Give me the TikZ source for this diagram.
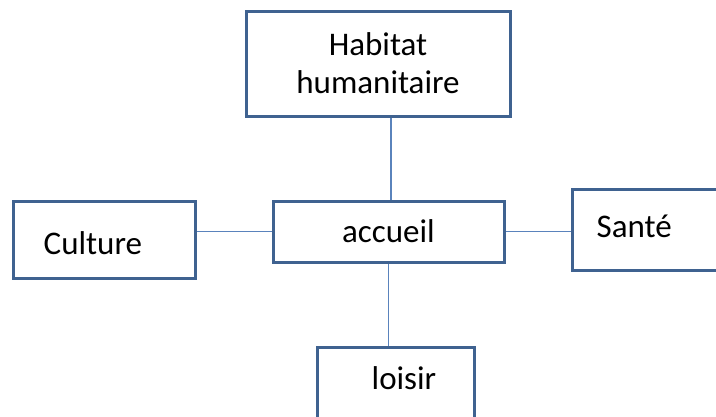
\documentclass[tikz,border=0pt]{standalone}
\usepackage{fontspec}
\setmainfont{Carlito}
\usetikzlibrary{calc}
\definecolor{boxblue}{HTML}{3F6290}
\definecolor{lineblue}{HTML}{5A83BC}
\tikzset{
  box/.style={draw=boxblue, line width=3pt, fill=white, inner sep=0pt},
  lbl/.style={font=\fontsize{33}{38}\selectfont, inner sep=0pt},
  link/.style={draw=lineblue, line width=1.4pt}
}
\begin{document}
\begin{tikzpicture}[x=1pt,y=-1pt]
\clip (0,0) rectangle (716,416);
\useasboundingbox (0,0) rectangle (716,416);
% boxes
\node[box, minimum width=264pt, minimum height=105pt, lbl, align=center] (hab) at (378,63.5) {Habitat\\humanitaire};
\node[box, minimum width=231pt, minimum height=61pt, lbl] (acc) at (388.5,231.5) {accueil};
\node[box, minimum width=182pt, minimum height=77pt] (cul) at (104,239.5) {};
\node[box, minimum width=170pt, minimum height=81pt] (san) at (657,229.5) {};
\node[box, minimum width=157pt, minimum height=95pt] (loi) at (395.5,394.5) {};
% texts not centred in their box
\node[lbl, anchor=base west] (culT) at ($(cul.west)+(32,14.5)$) {Culture};
\node[lbl, anchor=base west] (sanT) at ($(san.west)+(26,7.5)$) {Santé};
\node[lbl, anchor=base west] (loiT) at ($(loi.north west)+(56,44)$) {loisir};
% connectors
\draw[link] (hab.south -| 391,0) -- (acc.north -| 391,0);
\draw[link] (acc.west) -- (cul.east |- acc.west);
\draw[link] (acc.east) -- (san.west |- acc.east);
\draw[link] (acc.south) -- (loi.north -| acc.south);
\end{tikzpicture}
\end{document}
